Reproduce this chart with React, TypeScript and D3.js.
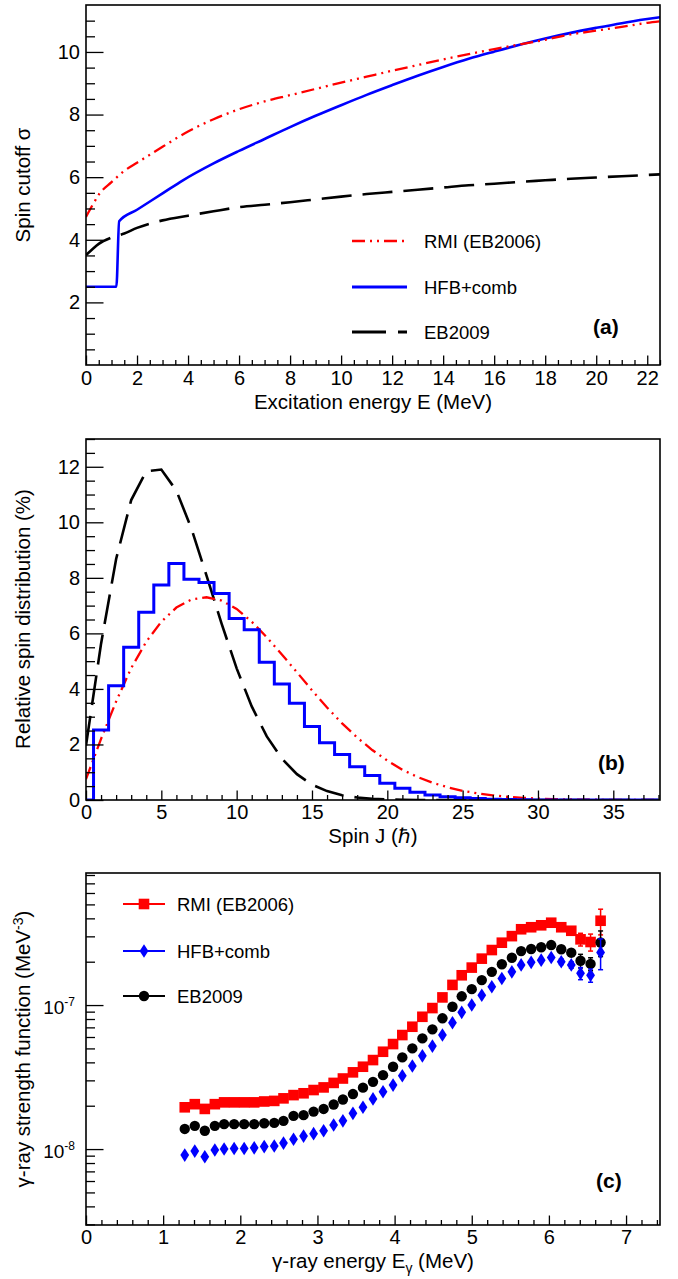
import { useEffect, useRef } from "react"
import * as d3 from "d3"

const FONT = "'Liberation Sans', Arial, Helvetica, sans-serif"
const RED = "#ff0000"
const BLUE = "#0000ff"
const BLACK = "#000000"

// ---------- (a) spin cutoff vs excitation energy ----------
const excEnergy = [0, 0.25, 0.5, 1, 1.5, 2, 3, 4, 5, 6, 7, 8, 9, 10, 11, 12, 13, 14, 15, 16, 17, 18, 19, 20, 21, 22, 22.5]
const sigmaRMI = [4.73, 5.1, 5.44, 5.84, 6.2, 6.46, 6.97, 7.46, 7.85, 8.17, 8.42, 8.62, 8.82, 9.02, 9.21, 9.4, 9.58, 9.76, 9.93, 10.09, 10.24, 10.39, 10.56, 10.68, 10.8, 10.93, 10.98]
const sigmaEB2009 = [3.51, 3.7, 3.87, 4.07, 4.2, 4.38, 4.62, 4.77, 4.91, 5.04, 5.12, 5.2, 5.29, 5.38, 5.46, 5.53, 5.6, 5.67, 5.74, 5.79, 5.85, 5.9, 5.95, 5.99, 6.03, 6.07, 6.09]
const hfbEnergy = [0, 1.19, 1.3, 2, 3, 3.8, 5, 6, 7, 8, 9, 10, 11, 12, 13, 14, 15, 16, 17, 18, 19, 20, 21, 22, 22.5]
const sigmaHFB = [2.5, 2.5, 4.59, 4.96, 5.48, 5.9, 6.44, 6.84, 7.22, 7.6, 7.96, 8.3, 8.63, 8.94, 9.24, 9.52, 9.78, 10.01, 10.23, 10.43, 10.61, 10.77, 10.92, 11.05, 11.11]

// ---------- (b) relative spin distribution ----------
const spinJ = [0, 1, 2, 3, 4, 5, 6, 7, 8, 9, 10, 11, 12, 13, 14, 15, 16, 17, 18, 19, 20, 21, 22, 23, 24, 25, 26, 27, 28, 29, 30, 31, 32, 33, 34, 35, 36, 37, 38]
const spinRMI = [0.75, 2.2, 3.55, 4.75, 5.7, 6.42, 6.93, 7.22, 7.3, 7.18, 6.88, 6.42, 5.86, 5.24, 4.6, 3.95, 3.33, 2.76, 2.25, 1.8, 1.42, 1.09, 0.83, 0.62, 0.46, 0.33, 0.24, 0.17, 0.11, 0.08, 0.05, 0.03, 0.02, 0.01, 0.01, 0, 0, 0, 0]
const spinEB2009 = [1.96, 5.63, 8.68, 10.8, 11.84, 11.9, 11.14, 9.77, 8.08, 6.35, 4.74, 3.37, 2.29, 1.49, 0.93, 0.55, 0.32, 0.17, 0.09, 0.04, 0.02, 0.01, 0, 0, 0, 0, 0, 0, 0, 0, 0, 0, 0, 0, 0, 0, 0, 0, 0]
const spinHFB = [0, 2.52, 4.11, 5.5, 6.76, 7.74, 8.52, 7.95, 7.83, 7.44, 6.54, 6.13, 4.96, 4.18, 3.48, 2.65, 2.06, 1.64, 1.2, 0.88, 0.6, 0.42, 0.28, 0.18, 0.12, 0.08, 0.05, 0.03, 0.02, 0.01, 0, 0, 0, 0, 0, 0, 0, 0, 0]

// ---------- (c) gamma-ray strength function ----------
const gammaEnergy = [1.28, 1.41, 1.54, 1.67, 1.79, 1.92, 2.05, 2.18, 2.31, 2.44, 2.56, 2.69, 2.82, 2.95, 3.08, 3.21, 3.33, 3.46, 3.59, 3.72, 3.85, 3.98, 4.10, 4.23, 4.36, 4.49, 4.62, 4.75, 4.87, 5.00, 5.13, 5.26, 5.39, 5.52, 5.64, 5.77, 5.90, 6.03, 6.16, 6.29, 6.41, 6.54, 6.67]
const gsfRMI = [1.95e-8, 2.05e-8, 1.90e-8, 2.05e-8, 2.11e-8, 2.11e-8, 2.11e-8, 2.11e-8, 2.14e-8, 2.16e-8, 2.25e-8, 2.37e-8, 2.44e-8, 2.57e-8, 2.68e-8, 2.88e-8, 3.09e-8, 3.41e-8, 3.73e-8, 4.15e-8, 4.74e-8, 5.36e-8, 6.19e-8, 7.07e-8, 8.29e-8, 9.53e-8, 1.13e-7, 1.38e-7, 1.61e-7, 1.82e-7, 2.10e-7, 2.41e-7, 2.71e-7, 3.01e-7, 3.36e-7, 3.47e-7, 3.58e-7, 3.73e-7, 3.47e-7, 3.28e-7, 2.86e-7, 2.74e-7, 3.85e-7]
const gsfHFB = [9.08e-9, 9.68e-9, 8.85e-9, 9.85e-9, 1.00e-8, 1.01e-8, 1.01e-8, 1.02e-8, 1.04e-8, 1.05e-8, 1.10e-8, 1.17e-8, 1.23e-8, 1.28e-8, 1.34e-8, 1.47e-8, 1.57e-8, 1.77e-8, 1.95e-8, 2.23e-8, 2.50e-8, 2.78e-8, 3.23e-8, 3.77e-8, 4.44e-8, 5.19e-8, 6.19e-8, 7.54e-8, 8.90e-8, 1.00e-7, 1.17e-7, 1.34e-7, 1.53e-7, 1.70e-7, 1.90e-7, 1.98e-7, 2.05e-7, 2.14e-7, 2.00e-7, 1.90e-7, 1.66e-7, 1.61e-7, 2.32e-7]
const gsfEB2009 = [1.38e-8, 1.45e-8, 1.34e-8, 1.45e-8, 1.49e-8, 1.49e-8, 1.49e-8, 1.49e-8, 1.51e-8, 1.52e-8, 1.57e-8, 1.70e-8, 1.72e-8, 1.82e-8, 1.90e-8, 2.04e-8, 2.21e-8, 2.41e-8, 2.67e-8, 2.93e-8, 3.26e-8, 3.73e-8, 4.33e-8, 5.00e-8, 5.87e-8, 6.78e-8, 8.09e-8, 9.73e-8, 1.15e-7, 1.29e-7, 1.49e-7, 1.70e-7, 1.92e-7, 2.13e-7, 2.37e-7, 2.45e-7, 2.52e-7, 2.61e-7, 2.44e-7, 2.31e-7, 2.03e-7, 1.93e-7, 2.72e-7]
// error bars (only the last points stick out of the markers)
const gsfErrRMI = [0, 0, 0, 0, 0, 0, 0, 0, 0, 0, 0, 0, 0, 0, 0, 0, 0, 0, 0, 0, 0, 0, 0, 0, 0, 0, 0, 0, 0, 0, 0, 0, 0, 0, 0, 0, 0, 0, 0.12e-7, 0.15e-7, 0.29e-7, 0.37e-7, 0.78e-7]
const gsfErrHFB = [0, 0, 0, 0, 0, 0, 0, 0, 0, 0, 0, 0, 0, 0, 0, 0, 0, 0, 0, 0, 0, 0, 0, 0, 0, 0, 0, 0, 0, 0, 0, 0, 0, 0, 0, 0, 0, 0, 0.09e-7, 0.1e-7, 0.16e-7, 0.17e-7, 0.56e-7]
const gsfErrEB2009 = [0, 0, 0, 0, 0, 0, 0, 0, 0, 0, 0, 0, 0, 0, 0, 0, 0, 0, 0, 0, 0, 0, 0, 0, 0, 0, 0, 0, 0, 0, 0, 0, 0, 0, 0, 0, 0, 0, 0.1e-7, 0.12e-7, 0.22e-7, 0.2e-7, 0.55e-7]

const LEFT = 86
const RIGHT = 660
const TICK_FONT = 20
const TITLE_FONT = 20.5
const LEGEND_FONT = 18.5

// evenly spaced tick values without float drift
const tickRange = (start, stop, step) =>
  d3.range(Math.round(start / step), Math.floor(stop / step + 1e-6) + 1).map((i) => +(i * step).toFixed(6))

const notIn = (vals, majors) => vals.filter((v) => !majors.some((m) => Math.abs(m - v) < 1e-9))

function styleAxis(a) {
  a.select(".domain").remove()
  a.selectAll(".tick line").attr("stroke", "#000").attr("stroke-width", 1.3)
  a.selectAll(".tick text").attr("font-family", FONT).attr("font-size", TICK_FONT).attr("fill", "#000")
}

function drawAxes(svg, box, x, y, cfg) {
  const g = svg.append("g")
  // minor ticks first
  styleAxis(
    g.append("g").attr("transform", `translate(0,${box.bottom})`)
      .call(d3.axisBottom(x).tickValues(cfg.xMinor).tickFormat(() => "").tickSizeInner(-5).tickSizeOuter(0)),
  )
  styleAxis(
    g.append("g").attr("transform", `translate(${box.left},0)`)
      .call(d3.axisLeft(y).tickValues(cfg.yMinor).tickFormat(() => "").tickSizeInner(-9).tickSizeOuter(0)),
  )
  styleAxis(
    g.append("g").attr("transform", `translate(0,${box.bottom})`)
      .call(d3.axisBottom(x).tickValues(cfg.xMajor).tickFormat(cfg.xFormat || d3.format("d"))
        .tickSizeInner(-9.5).tickSizeOuter(0).tickPadding(cfg.xPad)),
  )
  styleAxis(
    g.append("g").attr("transform", `translate(${box.left},0)`)
      .call(d3.axisLeft(y).tickValues(cfg.yMajor).tickFormat(cfg.yFormat || d3.format("d"))
        .tickSizeInner(-17.5).tickSizeOuter(0).tickPadding(6)),
  )
  // frame
  g.append("rect")
    .attr("x", box.left).attr("y", box.top)
    .attr("width", box.right - box.left).attr("height", box.bottom - box.top)
    .attr("fill", "none").attr("stroke", "#000").attr("stroke-width", 1.6)
  return g
}

function addClip(svg, id, box) {
  svg.append("clipPath").attr("id", id)
    .append("rect")
    .attr("x", box.left).attr("y", box.top)
    .attr("width", box.right - box.left).attr("height", box.bottom - box.top)
  return svg.append("g").attr("clip-path", `url(#${id})`)
}

function yTitle(svg, cy, text) {
  return svg.append("text")
    .attr("transform", `translate(30,${cy}) rotate(-90)`)
    .attr("text-anchor", "middle")
    .attr("font-family", FONT).attr("font-size", TITLE_FONT)
    .text(text)
}

function xTitle(svg, baseline, text) {
  return svg.append("text")
    .attr("x", (LEFT + RIGHT) / 2).attr("y", baseline)
    .attr("text-anchor", "middle")
    .attr("font-family", FONT).attr("font-size", TITLE_FONT)
    .text(text)
}

function panelTag(svg, x, y, text) {
  svg.append("text").attr("x", x).attr("y", y)
    .attr("font-family", FONT).attr("font-size", 21).attr("font-weight", "bold")
    .text(text)
}

const DASH_RMI = "13,5,2,5,2,5"
const DASH_EB = "30,11"

function drawPanelA(svg) {
  const box = { left: LEFT, right: RIGHT, top: 5, bottom: 365 }
  const x = d3.scaleLinear().domain([0, 22.5]).range([box.left, box.right])
  const y = d3.scaleLinear().domain([0, 11.5]).range([box.bottom, box.top])

  const plot = addClip(svg, "clipA", box)
  const line = d3.line().x((d) => x(d[0])).y((d) => y(d[1])).curve(d3.curveMonotoneX)

  plot.append("path").datum(d3.zip(excEnergy, sigmaEB2009)).attr("d", line)
    .attr("fill", "none").attr("stroke", BLACK).attr("stroke-width", 2.6).attr("stroke-dasharray", DASH_EB)
  plot.append("path").datum(d3.zip(hfbEnergy, sigmaHFB)).attr("d", line)
    .attr("fill", "none").attr("stroke", BLUE).attr("stroke-width", 2.6)
  plot.append("path").datum(d3.zip(excEnergy, sigmaRMI)).attr("d", line)
    .attr("fill", "none").attr("stroke", RED).attr("stroke-width", 2.3).attr("stroke-dasharray", DASH_RMI)

  drawAxes(svg, box, x, y, {
    xMajor: tickRange(0, 22, 2),
    xMinor: notIn(tickRange(0, 22.5, 0.5), tickRange(0, 22, 2)),
    yMajor: [2, 4, 6, 8, 10],
    yMinor: notIn(tickRange(0.5, 11, 0.5), [2, 4, 6, 8, 10]),
    xPad: 6,
  })

  // legend
  const legend = [
    { label: "RMI (EB2006)", color: RED, dash: DASH_RMI, w: 2.3, y: 241 },
    { label: "HFB+comb", color: BLUE, dash: null, w: 2.8, y: 287 },
    { label: "EB2009", color: BLACK, dash: "34,12", w: 2.8, y: 332 },
  ]
  legend.forEach((d) => {
    svg.append("line").attr("x1", 352).attr("x2", 407).attr("y1", d.y).attr("y2", d.y)
      .attr("stroke", d.color).attr("stroke-width", d.w).attr("stroke-dasharray", d.dash)
    svg.append("text").attr("x", 424).attr("y", d.y + 6.8)
      .attr("font-family", FONT).attr("font-size", LEGEND_FONT).text(d.label)
  })
  panelTag(svg, 593, 334, "(a)")

  yTitle(svg, 185, "Spin cutoff σ")
  xTitle(svg, 409, "Excitation energy E (MeV)")
}

function drawPanelB(svg) {
  const box = { left: LEFT, right: RIGHT, top: 439, bottom: 800 }
  const x = d3.scaleLinear().domain([0, 38.1]).range([box.left, box.right])
  const y = d3.scaleLinear().domain([0, 13]).range([box.bottom, box.top])

  const plot = addClip(svg, "clipB", box)
  const poly = d3.line().x((d) => x(d[0])).y((d) => y(d[1]))
  const hist = d3.line().x((d) => x(d[0])).y((d) => y(d[1])).curve(d3.curveStep)

  plot.append("path").datum(d3.zip(spinJ, spinEB2009)).attr("d", poly)
    .attr("fill", "none").attr("stroke", BLACK).attr("stroke-width", 2.6).attr("stroke-dasharray", DASH_EB)
  plot.append("path").datum(d3.zip(spinJ, spinRMI)).attr("d", poly)
    .attr("fill", "none").attr("stroke", RED).attr("stroke-width", 2.3).attr("stroke-dasharray", DASH_RMI)
  plot.append("path").datum(d3.zip(spinJ, spinHFB)).attr("d", hist)
    .attr("fill", "none").attr("stroke", BLUE).attr("stroke-width", 3)

  drawAxes(svg, box, x, y, {
    xMajor: tickRange(0, 35, 5),
    xMinor: notIn(tickRange(0, 38, 1), tickRange(0, 35, 5)),
    yMajor: tickRange(0, 12, 2),
    yMinor: notIn(tickRange(0.5, 13, 0.5), tickRange(0, 12, 2)),
    xPad: 5,
  })
  panelTag(svg, 598, 770, "(b)")

  yTitle(svg, 619, "Relative spin distribution (%)")
  xTitle(svg, 843, "Spin J (ℏ)")
}

function drawMarker(g, type, color, cx, cy) {
  if (type === "square") {
    g.append("rect").attr("x", cx - 5.3).attr("y", cy - 5.3).attr("width", 10.6).attr("height", 10.6).attr("fill", color)
  } else if (type === "diamond") {
    g.append("path").attr("d", `M${cx},${cy - 6.8}L${cx + 4.4},${cy}L${cx},${cy + 6.8}L${cx - 4.4},${cy}Z`).attr("fill", color)
  } else {
    g.append("circle").attr("cx", cx).attr("cy", cy).attr("r", 5.2).attr("fill", color)
  }
}

function drawPanelC(svg) {
  const box = { left: LEFT, right: RIGHT, top: 873, bottom: 1225 }
  const x = d3.scaleLinear().domain([0, 7.44]).range([box.left, box.right])
  const y = d3.scaleLog().domain([2.97e-9, 8.26e-7]).range([box.bottom, box.top])

  const plot = addClip(svg, "clipC", box)
  const series = [
    { label: "RMI (EB2006)", vals: gsfRMI, errs: gsfErrRMI, color: RED, marker: "square", ly: 904 },
    { label: "EB2009", vals: gsfEB2009, errs: gsfErrEB2009, color: BLACK, marker: "circle", ly: 996 },
    { label: "HFB+comb", vals: gsfHFB, errs: gsfErrHFB, color: BLUE, marker: "diamond", ly: 951 },
  ]
  series.forEach((s) => {
    const g = plot.append("g")
    gammaEnergy.forEach((e, i) => {
      const err = s.errs[i]
      if (err > 0) {
        const cx = x(e)
        const y1 = y(s.vals[i] - err)
        const y2 = y(s.vals[i] + err)
        g.append("line").attr("x1", cx).attr("x2", cx).attr("y1", y1).attr("y2", y2).attr("stroke", s.color).attr("stroke-width", 1.5)
        g.append("line").attr("x1", cx - 2.5).attr("x2", cx + 2.5).attr("y1", y1).attr("y2", y1).attr("stroke", s.color).attr("stroke-width", 1.5)
        g.append("line").attr("x1", cx - 2.5).attr("x2", cx + 2.5).attr("y1", y2).attr("y2", y2).attr("stroke", s.color).attr("stroke-width", 1.5)
      }
    })
    gammaEnergy.forEach((e, i) => drawMarker(g, s.marker, s.color, x(e), y(s.vals[i])))
  })

  const yMajor = [1e-8, 1e-7]
  const yMinor = [3e-9, 4e-9, 5e-9, 6e-9, 7e-9, 8e-9, 9e-9, 2e-8, 3e-8, 4e-8, 5e-8, 6e-8, 7e-8, 8e-8, 9e-8, 2e-7, 3e-7, 4e-7, 5e-7, 6e-7, 7e-7, 8e-7]
  drawAxes(svg, box, x, y, {
    xMajor: tickRange(0, 7, 1),
    xMinor: notIn(tickRange(0, 7.4, 0.2), tickRange(0, 7, 1)),
    yMajor,
    yMinor,
    yFormat: () => "",
    xPad: 5,
  })
  // power-of-ten labels
  yMajor.forEach((v) => {
    const t = svg.append("text").attr("x", 75).attr("y", y(v) + 9)
      .attr("text-anchor", "end").attr("font-family", FONT).attr("font-size", 19)
    t.append("tspan").text("10")
    t.append("tspan").attr("dy", -8.5).attr("font-size", 12).text(String(Math.round(Math.log10(v))))
  })

  // legend
  ;[series[0], series[2], series[1]].forEach((s) => {
    svg.append("line").attr("x1", 123).attr("x2", 165).attr("y1", s.ly).attr("y2", s.ly)
      .attr("stroke", s.color).attr("stroke-width", 2)
    drawMarker(svg, s.marker, s.color, 144, s.ly)
    svg.append("text").attr("x", 177).attr("y", s.ly + 6.8)
      .attr("font-family", FONT).attr("font-size", LEGEND_FONT).text(s.label)
  })
  panelTag(svg, 596, 1188, "(c)")

  const yt = yTitle(svg, 1049, "γ-ray strength function (MeV")
  yt.append("tspan").attr("dy", -7).attr("font-size", 14).text("-3")
  yt.append("tspan").attr("dy", 7).text(")")

  const xt = xTitle(svg, 1268, "γ-ray energy E")
  xt.append("tspan").attr("dy", 5).attr("font-size", 14).text("γ")
  xt.append("tspan").attr("dy", -5).text(" (MeV)")
}

export default function App() {
  const svgRef = useRef(null)

  useEffect(() => {
    if (!svgRef.current) return
    const svg = d3.select(svgRef.current)
    svg.selectAll("*").remove()
    drawPanelA(svg)
    drawPanelB(svg)
    drawPanelC(svg)
  }, [])

  return (
    <div style={{ position: "absolute", left: 0, top: 0 }}>
      <svg ref={svgRef} width={678} height={1279} style={{ display: "block", backgroundColor: "#ffffff" }} />
    </div>
  )
}
